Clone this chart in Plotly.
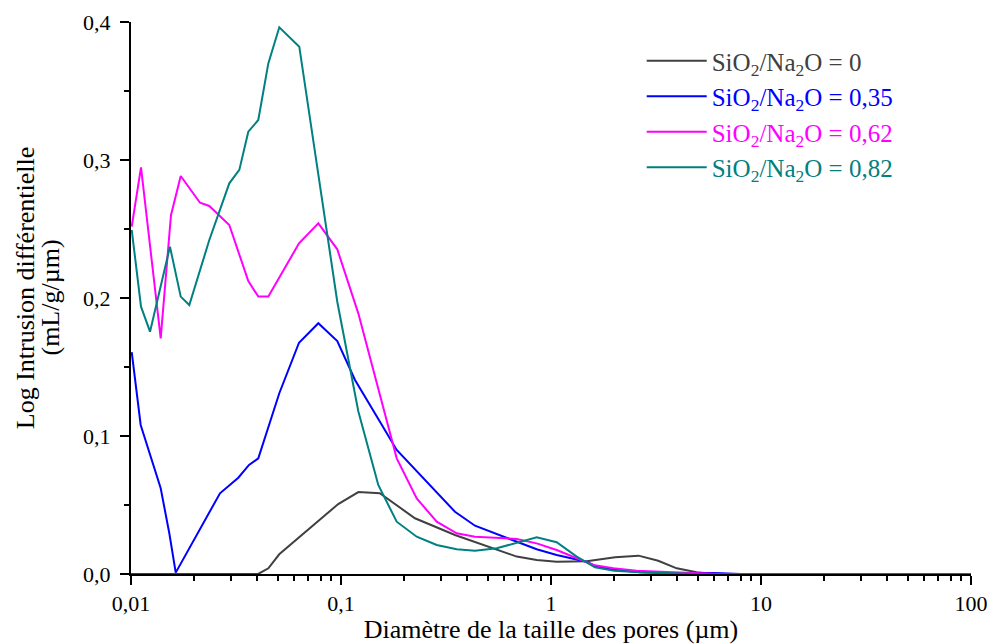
import plotly.graph_objects as go

# Pore diameter (µm) and log differential intrusion (mL/g/µm)
x_0 = [0.01, 0.0403, 0.0451, 0.0508, 0.097, 0.121, 0.153, 0.225, 0.349, 0.551, 0.687,
       0.855, 1.064, 1.479, 2.02, 2.61, 3.24, 3.97, 4.94, 6.0, 100]
y_0 = [0.0, 0.0, 0.0041, 0.0143, 0.0507, 0.0594, 0.0585, 0.0404, 0.0283, 0.0174, 0.0126,
       0.0101, 0.0089, 0.0092, 0.0121, 0.0133, 0.0096, 0.0041, 0.0012, 0.0, 0.0]

x_035 = [0.01008, 0.01112, 0.01385, 0.01522, 0.01633, 0.02653, 0.03243, 0.03647, 0.04038,
         0.04507, 0.05084, 0.0631, 0.078, 0.096, 0.1166, 0.1533, 0.1842, 0.349, 0.4346,
         0.855, 1.064, 1.479, 1.62, 2.0, 2.654, 4.0, 6.0, 8.0, 100]
y_035 = [0.1607, 0.108, 0.0621, 0.0295, 0.001, 0.0585, 0.0698, 0.079, 0.0838,
         0.1067, 0.131, 0.1676, 0.1817, 0.1688, 0.1406, 0.1104, 0.0899, 0.0451, 0.035,
         0.0179, 0.0138, 0.0089, 0.0058, 0.003, 0.0012, 0.0005, 0.0008, 0.0, 0.0]

x_062 = [0.01008, 0.01116, 0.01385, 0.0155, 0.01725, 0.02131, 0.0236, 0.02938, 0.03619,
         0.04038, 0.04507, 0.0631, 0.078, 0.096, 0.1209, 0.1533, 0.1842, 0.2294, 0.2856,
         0.3556, 0.4346, 0.6866, 0.855, 1.064, 1.59, 1.981, 2.559, 3.81, 6.38, 100]
y_062 = [0.2517, 0.2947, 0.1708, 0.26, 0.2884, 0.269, 0.2667, 0.2529, 0.2123,
         0.201, 0.201, 0.2396, 0.2541, 0.2353, 0.1889, 0.1285, 0.0838, 0.0548, 0.0379,
         0.0295, 0.027, 0.0254, 0.0222, 0.0174, 0.0065, 0.0041, 0.0024, 0.0012, 0.0, 0.0]

x_082 = [0.01008, 0.01116, 0.01232, 0.01533, 0.01725, 0.01895, 0.0236, 0.02938, 0.0328,
         0.03619, 0.04038, 0.04507, 0.05084, 0.0633, 0.096, 0.1209, 0.1505, 0.1842,
         0.2294, 0.2856, 0.3556, 0.4346, 0.5513, 0.6866, 0.855, 1.064, 1.326, 1.62,
         2.0, 2.654, 5.0, 100]
y_082 = [0.2493, 0.1937, 0.1756, 0.2372, 0.201, 0.1949, 0.242, 0.2831, 0.2928,
         0.3205, 0.329, 0.370, 0.3962, 0.3821, 0.1973, 0.118, 0.0645, 0.0379,
         0.027, 0.021, 0.0179, 0.0169, 0.0186, 0.0227, 0.0266, 0.023, 0.0126, 0.0048,
         0.0024, 0.0012, 0.0, 0.0]

names = ["SiO<sub>2</sub>/Na<sub>2</sub>O = 0",
         "SiO<sub>2</sub>/Na<sub>2</sub>O = 0,35",
         "SiO<sub>2</sub>/Na<sub>2</sub>O = 0,62",
         "SiO<sub>2</sub>/Na<sub>2</sub>O = 0,82"]
colors = ["#404040", "#0000FF", "#FF00FF", "#008080"]
xs = [x_0, x_035, x_062, x_082]
ys = [y_0, y_035, y_062, y_082]

x_tickvals = [0.01, 0.1, 1, 10, 100]
x_ticktext = ["0,01", "0,1", "1", "10", "100"]
y_title_lines = ["Log Intrusion différentielle", "(mL/g/µm)"]

FONT = "Liberation Serif, Times New Roman, serif"

fig = go.Figure()
for i in range(4):
    fig.add_trace(go.Scatter(
        x=xs[i], y=ys[i], mode="lines",
        name='<span style="color:%s">%s</span>' % (colors[i], names[i]),
        line=dict(color=colors[i], width=2),
        legendgroup="g%d" % i,
    ))

fig.update_layout(
    width=992, height=644,
    margin=dict(l=131, r=21, t=22, b=70),
    paper_bgcolor="white", plot_bgcolor="white",
    font=dict(family=FONT, size=21, color="black"),
    separators=", ",
    showlegend=True,
    legend=dict(x=0.608, y=0.971, xanchor="left", yanchor="top",
                font=dict(family=FONT, size=25),
                bgcolor="rgba(0,0,0,0)", tracegroupgap=0,
                itemwidth=60),
)

fig.update_xaxes(
    type="log", range=[-2, 2],
    tickvals=x_tickvals, ticktext=x_ticktext,
    showline=True, linecolor="black", linewidth=2,
    ticks="outside", ticklen=9, tickwidth=2, tickcolor="black",
    minor=dict(ticks="outside", ticklen=5, tickwidth=1.5, tickcolor="black", dtick="D1", showgrid=False),
    showgrid=False, zeroline=False, mirror=False, automargin=False,
    tickfont=dict(family=FONT, size=22),
    title=dict(text="Diamètre de la taille des pores (µm)", font=dict(family=FONT, size=26), standoff=0),
)
fig.update_yaxes(
    range=[0, 0.4], dtick=0.1, tickformat=".1f",
    showline=True, linecolor="black", linewidth=2,
    ticks="outside", ticklen=9, tickwidth=2, tickcolor="black",
    minor=dict(ticks="outside", ticklen=5, tickwidth=1.5, tickcolor="black", dtick=0.05, showgrid=False),
    showgrid=False, zeroline=False, mirror=False, automargin=False,
    tickfont=dict(family=FONT, size=22), ticklabelstandoff=5,
)

fig.add_annotation(text=y_title_lines[0], xref="paper", yref="paper",
                   x=-0.126, y=0.518, textangle=-90, showarrow=False,
                   font=dict(family=FONT, size=26), xanchor="center", yanchor="middle")
fig.add_annotation(text=y_title_lines[1], xref="paper", yref="paper",
                   x=-0.097, y=0.50, textangle=-90, showarrow=False,
                   font=dict(family=FONT, size=26), xanchor="center", yanchor="middle")

fig.write_html("out.html", config={"displayModeBar": False},
               post_script="document.body.style.margin='0';document.body.style.overflow='hidden';")
